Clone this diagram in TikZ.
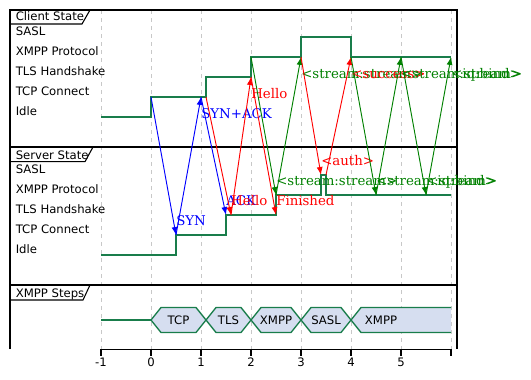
\documentclass[tikz,border=0pt]{standalone}
\usepackage{fontspec}
\setsansfont{DejaVu Sans}
\newfontfamily\msgfont{DejaVu Serif}
\usetikzlibrary{arrows.meta,calc,positioning}
\definecolor{sigline}{RGB}{25,125,75}
\definecolor{busfill}{RGB}{214,222,240}
\definecolor{msggreen}{RGB}{0,128,0}
\definecolor{gridgray}{RGB}{200,200,200}

\begin{document}
\begin{tikzpicture}[x=0.75pt,y=-0.75pt,
  frame/.style={line width=1.2pt},
  tabline/.style={line width=0.8pt},
  gridline/.style={gridgray,line width=0.5pt,dash pattern=on 3pt off 3pt},
  signal/.style={sigline,line width=1pt},
  bus/.style={sigline,line width=1pt,fill=busfill},
  msg/.style={line width=0.7pt,-{Latex[length=6pt,width=4.5pt]}},
  sans/.style={font=\sffamily\fontsize{8.75}{10}\selectfont,inner sep=0pt},
  msglabel/.style={font=\msgfont\fontsize{10}{12}\selectfont,inner sep=0pt,anchor=base west}]

\useasboundingbox (0,0) rectangle (531,379);

% time grid
\foreach \t in {-1,...,6}
  \draw[gridline] ({151+50*\t},10) -- ({151+50*\t},349);

% frame and panels
\draw[frame] (10,349) -- (10,10) -- (457,10) -- (457,349);
\draw[frame] (10,147) -- (457,147);
\draw[frame] (10,285) -- (457,285);

% panel tabs
\node[sans,anchor=base west] (clientTab) at (15.5,20.7) {Client State};
\node[sans,anchor=base west] (serverTab) at (15.5,159.3) {Server State};
\node[sans,anchor=base west] (stepsTab) at (15.5,297.3) {XMPP Steps};
\draw[tabline] (10,24) -- (82,24) -- (90,10);
\draw[tabline] (10,161.7) -- (85,161.7) -- (93,147);
\draw[tabline] (10,300) -- (83,300) -- (90,285);

% state names
\foreach \lbl [count=\i from 0] in {SASL,XMPP Protocol,TLS Handshake,TCP Connect,Idle}{
  \node[sans,anchor=base west] (cl\i) at (15.5,35.3+20*\i) {\lbl};
  \node[sans,anchor=base west] (sv\i) at (15.5,173.3+20*\i) {\lbl};
}

% client and server states
\draw[signal] (101,117) -- (151,117) -- (151,97) -- (206,97) -- (206,77) -- (251,77)
  -- (251,57) -- (301,57) -- (301,37) -- (351,37) -- (351,57) -- (451,57);
\draw[signal] (101,255) -- (176,255) -- (176,235) -- (226,235) -- (226,215) -- (276,215)
  -- (276,195) -- (321,195) -- (321,175) -- (326,175) -- (326,195) -- (451,195);

% message end points
\coordinate (cSyn) at (151,97);
\coordinate (sSyn) at (176,235);
\coordinate (cSynAck) at (201,97);
\coordinate (sAck) at (226,215);
\coordinate (cHello) at (206,97);
\coordinate (sHello) at (231,215);
\coordinate (cSHello) at (251,77);
\coordinate (sFin) at (276,215);
\coordinate (cStream) at (251,57);
\coordinate (sStream) at (276,195);
\coordinate (cStreamB) at (301,57);
\coordinate (sAuth) at (321,175);
\coordinate (sSucc) at (326,175);
\coordinate (cSucc) at (351,57);
\coordinate (sStreamB) at (376,195);
\coordinate (cStreamC) at (401,57);
\coordinate (sBind) at (426,195);
\coordinate (cBind) at (451,57);

\foreach \src/\dst/\col/\txt/\dy in {
  cSyn/sSyn/blue/SYN/-10,
  sSyn/cSynAck/blue/SYN+ACK/21,
  cSynAck/sAck/blue/ACK/-10,
  cHello/sHello/red/Hello/-10,
  sHello/cSHello/red/Hello/21,
  cSHello/sFin/red/Finished/-10,
  cStream/sStream/msggreen/<stream:stream>/-10,
  sStream/cStreamB/msggreen/<stream:stream>/21,
  cStreamB/sAuth/red/<auth>/-10,
  sSucc/cSucc/red/<success>/21,
  cSucc/sStreamB/msggreen/<stream:stream>/-10,
  sStreamB/cStreamC/msggreen/<stream:stream>/21,
  cStreamC/sBind/msggreen/<iq:bind>/-10,
  sBind/cBind/msggreen/<iq:bind>/21}{
  \draw[msg,\col] (\src) -- (\dst);
  \node[msglabel,text=\col] (lbl-\dst) at ($(\dst)+(0,\dy)$) {\txt};
}

% xmpp steps
\draw[signal] (101,320) -- (151,320);
\foreach \a/\b/\txt in {151/206/TCP,206/251/TLS,251/301/XMPP,301/351/SASL}{
  \draw[bus] (\a,320) -- (\a+10,307.5) -- (\b-10,307.5) -- (\b,320)
    -- (\b-10,332.5) -- (\a+10,332.5) -- cycle;
  \node[sans] (seg\a) at ({(\a+\b)/2},320) {\txt};
}
\fill[busfill] (351,320) -- (361,307.5) -- (451,307.5) -- (451,332.5) -- (361,332.5) -- cycle;
\draw[signal] (451,307.5) -- (361,307.5) -- (351,320) -- (361,332.5) -- (451,332.5);
\node[sans] (seg351) at (381,320) {XMPP};

% time axis
\draw[frame] (101,349.5) -- (451,349.5);
\foreach \t in {-1,...,6}
  \draw[frame] ({151+50*\t},349) -- ({151+50*\t},356);
\foreach \t in {-1,...,5}
  \node[sans] (tick\t) at ({151+50*\t},362.5) {\t};
\end{tikzpicture}
\end{document}
